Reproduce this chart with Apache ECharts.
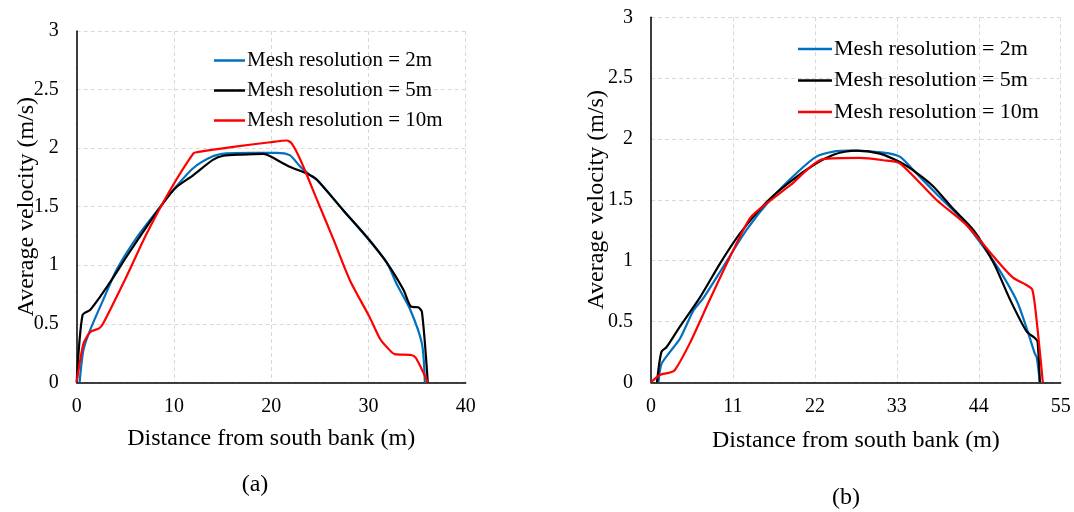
<!DOCTYPE html>
<html>
<head>
<meta charset="utf-8">
<script src="https://cdn.jsdelivr.net/npm/echarts@6/dist/echarts.min.js"></script>
<style>
html,body{margin:0;padding:0;background:#fff;}
#chart{width:1074px;height:512px;}
</style>
</head>
<body>
<div id="chart"></div>
<script>
// ---- Data ----
var seriesNames = ['Mesh resolution = 2m', 'Mesh resolution = 5m', 'Mesh resolution = 10m'];
var xTicksA = [0, 10, 20, 30, 40];
var xTicksB = [0, 11, 22, 33, 44, 55];
var yTicks = [0, 0.5, 1, 1.5, 2, 2.5, 3];

// (a) [distance, velocity]
var a2m = [[0.3,0],[0.7,0.28],[1.4,0.45],[2.7,0.70],[4.1,0.96],[6.2,1.24],[8.6,1.50],[9.9,1.64],[12.0,1.83],[14.0,1.93],[15.4,1.955],[18,1.96],[20.5,1.96],[21.9,1.94],[23.0,1.84],[24.0,1.77],[24.7,1.73],[27.4,1.47],[29.8,1.24],[31.9,1.02],[32.9,0.84],[34.3,0.62],[35.5,0.33],[35.8,0]];
var a5m = [[0,0],[0.6,0.575],[1.4,0.62],[2.4,0.73],[3.8,0.90],[5.1,1.07],[7.2,1.33],[9.25,1.57],[10.3,1.67],[12.0,1.77],[14.0,1.90],[15.1,1.935],[17,1.945],[19.2,1.95],[19.9,1.93],[21.9,1.84],[23.6,1.785],[24.7,1.73],[27.4,1.47],[29.8,1.245],[31.9,1.02],[33.6,0.79],[34.4,0.645],[35.1,0.64],[35.5,0.60],[36.1,0]];
var a10m = [[0,0],[0.7,0.33],[1.4,0.43],[2.3,0.46],[2.7,0.50],[5.1,0.90],[7.2,1.27],[9.6,1.64],[12.0,1.955],[12.4,1.965],[16.1,2.01],[19.9,2.05],[21.6,2.065],[22.1,2.04],[23.0,1.90],[24.7,1.56],[26.4,1.22],[28.1,0.87],[30.1,0.56],[31.2,0.37],[31.9,0.30],[32.7,0.24],[34.4,0.233],[34.9,0.205],[36.1,0]];

// (b) [distance, velocity]
var b2m = [[1.0,0],[1.4,0.15],[2.55,0.25],[3.9,0.36],[5.7,0.59],[7.0,0.69],[9.7,0.95],[12.8,1.25],[16.0,1.50],[19.55,1.72],[22.2,1.855],[24.5,1.896],[26.7,1.904],[31.2,1.888],[33.4,1.855],[35.2,1.745],[38.3,1.55],[41.9,1.33],[44.6,1.115],[46.8,0.92],[49.1,0.67],[50.4,0.45],[51.5,0.24],[51.8,0.2],[52.2,0]];
var b5m = [[0.8,0],[1.4,0.25],[2.1,0.29],[3.9,0.46],[6.6,0.70],[9.3,0.98],[11.9,1.22],[15.5,1.48],[18.7,1.65],[22.2,1.80],[24.5,1.87],[26.0,1.895],[27.6,1.905],[30.7,1.88],[33.4,1.81],[35.7,1.72],[37.9,1.61],[40.5,1.43],[43.3,1.25],[46.0,0.98],[48.2,0.68],[50.4,0.42],[51.6,0.36],[51.9,0.33],[52.2,0]];
var b10m = [[0,0],[1.2,0.06],[2.55,0.08],[3.2,0.10],[5.2,0.32],[7.9,0.68],[10.6,1.03],[13.3,1.35],[15.5,1.47],[18.7,1.62],[23.1,1.835],[28.0,1.845],[31.2,1.825],[33.4,1.80],[38.3,1.50],[42.4,1.29],[45.9,1.04],[48.6,0.86],[50.4,0.80],[51.2,0.76],[51.8,0.49],[52.6,0]];

var colors = ['#0070C0', '#000000', '#FF0000'];
var font = 'Liberation Serif';

function xAxisCfg(idx, ticks) {
  return {
    type: 'value', gridIndex: idx,
    min: ticks[0], max: ticks[ticks.length - 1], interval: ticks[1] - ticks[0],
    name: 'Distance from south bank (m)', nameLocation: 'middle', nameGap: idx === 0 ? 44 : 46,
    nameTextStyle: { fontFamily: font, fontSize: 24, color: '#000' },
    axisLine: { show: true, onZero: false, lineStyle: { color: '#000', width: 1.5 } },
    axisTick: { show: false },
    axisLabel: { fontFamily: font, fontSize: 20, color: '#000', margin: 14 },
    splitLine: { show: true, lineStyle: { color: '#d9d9d9', type: [4, 3], width: 1 } }
  };
}
function yAxisCfg(idx) {
  return {
    type: 'value', gridIndex: idx,
    min: yTicks[0], max: yTicks[yTicks.length - 1], interval: 0.5,
    name: 'Average velocity (m/s)', nameLocation: 'middle', nameGap: idx === 0 ? 38 : 42, nameRotate: 90,
    nameMoveOverlap: false,
    nameTextStyle: { fontFamily: font, fontSize: 24, color: '#000' },
    axisLine: { show: true, lineStyle: { color: '#000', width: 1.5 } },
    axisTick: { show: false },
    axisLabel: { fontFamily: font, fontSize: 20, color: '#000', margin: 18 },
    splitLine: { show: true, lineStyle: { color: '#d9d9d9', type: [4, 3], width: 1 } }
  };
}
function lineSeries(name, data, color, idx) {
  return {
    name: name, type: 'line', data: data, xAxisIndex: idx, yAxisIndex: idx,
    showSymbol: false, symbol: 'none', smooth: 0.25,
    lineStyle: { color: color, width: 2.2 }, itemStyle: { color: color }
  };
}
function legendCfg(left, top, w, gap, size) {
  return {
    data: seriesNames, orient: 'vertical', left: left, top: top,
    icon: 'rect', itemWidth: w, itemHeight: 2.5, itemGap: gap, selectedMode: false,
    textStyle: { fontFamily: font, fontSize: size, color: '#000', padding: [0, 0, 0, -3] }
  };
}

var chart = echarts.init(document.getElementById('chart'), null, { renderer: 'canvas' });
chart.setOption({
  animation: false,
  backgroundColor: '#fff',
  grid: [
    { left: 76.7, top: 31, width: 389, height: 351.3, outerBoundsMode: 'none', containLabel: false },
    { left: 651, top: 17.3, width: 409.7, height: 365, outerBoundsMode: 'none', containLabel: false }
  ],
  xAxis: [xAxisCfg(0, xTicksA), xAxisCfg(1, xTicksB)],
  yAxis: [yAxisCfg(0), yAxisCfg(1)],
  legend: [
    legendCfg(209, 45, 31, 9, 21),
    legendCfg(793, 33, 34, 9.5, 22)
  ],
  graphic: [
    { type: 'text', style: { text: '(a)', x: 255, y: 485, fontFamily: font, fontSize: 24, fill: '#000', align: 'center', verticalAlign: 'middle' } },
    { type: 'text', style: { text: '(b)', x: 846, y: 498, fontFamily: font, fontSize: 24, fill: '#000', align: 'center', verticalAlign: 'middle' } }
  ],
  series: [
    lineSeries(seriesNames[0], a2m, colors[0], 0),
    lineSeries(seriesNames[1], a5m, colors[1], 0),
    lineSeries(seriesNames[2], a10m, colors[2], 0),
    lineSeries(seriesNames[0], b2m, colors[0], 1),
    lineSeries(seriesNames[1], b5m, colors[1], 1),
    lineSeries(seriesNames[2], b10m, colors[2], 1)
  ]
});
</script>
</body>
</html>
